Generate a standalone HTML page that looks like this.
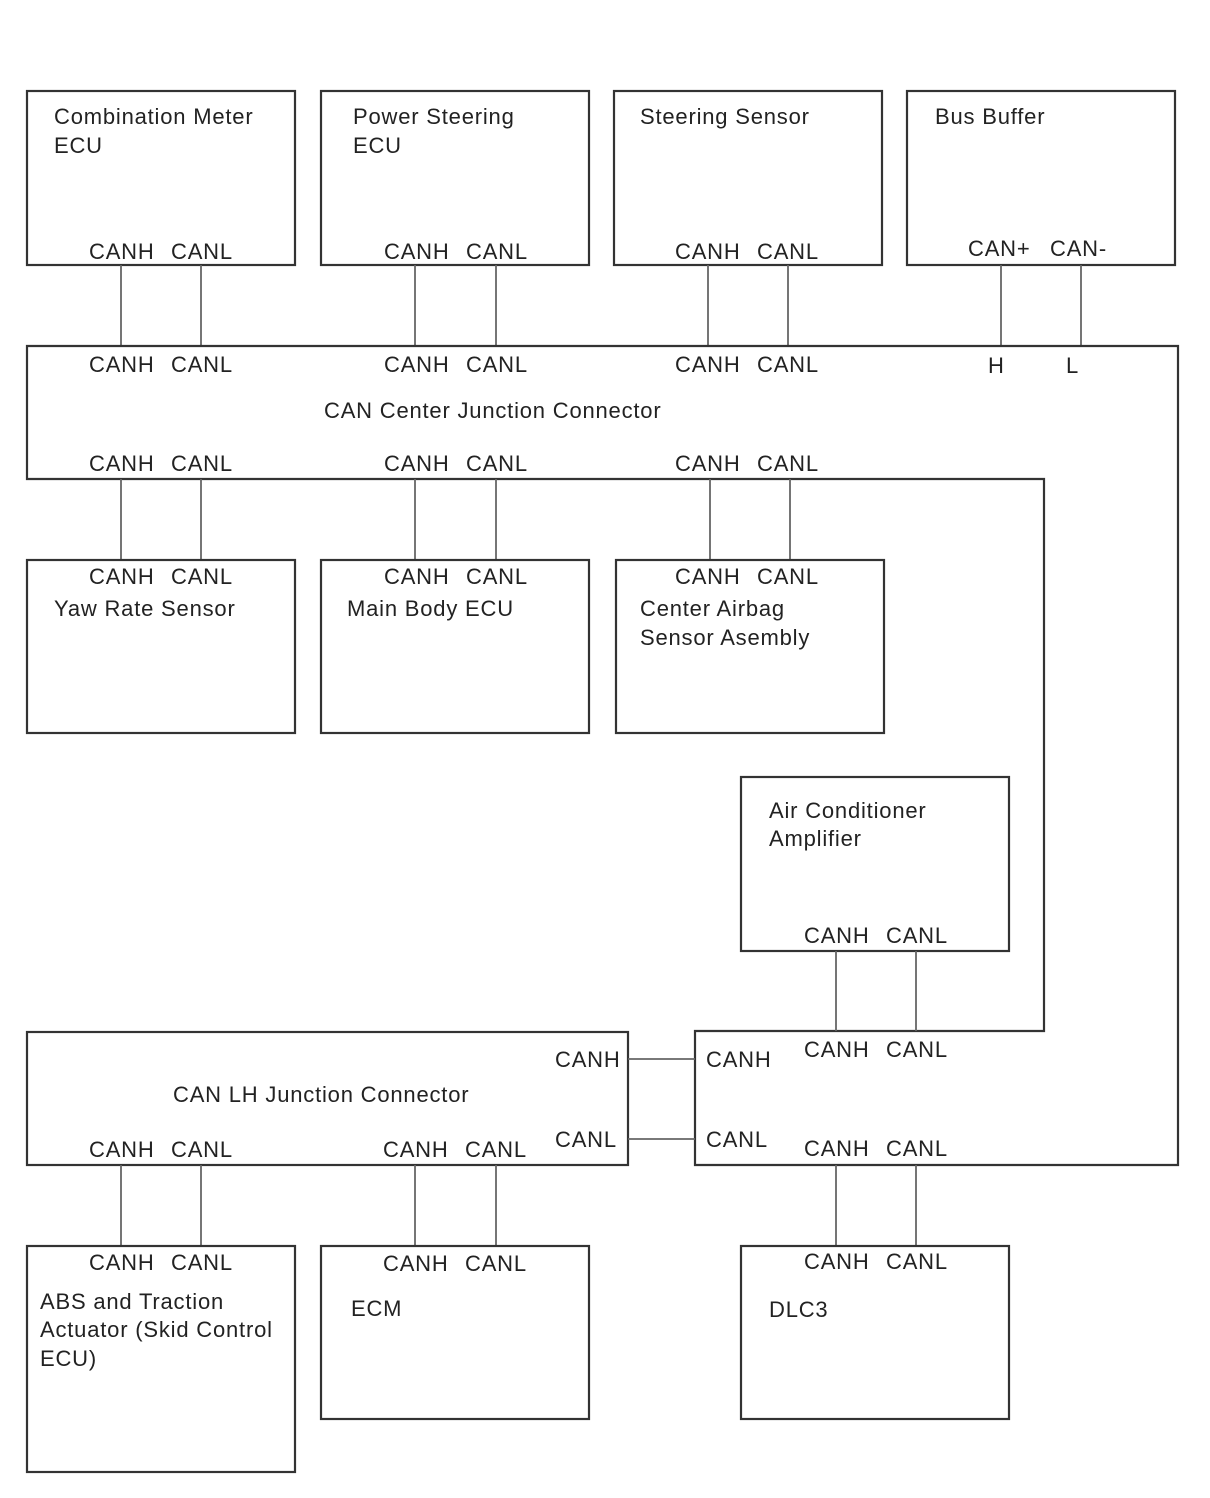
<!DOCTYPE html>
<html><head><meta charset="utf-8"><style>
html,body{margin:0;padding:0;background:#fff;}
svg{display:block;}
text{font-family:"Liberation Sans",Arial,sans-serif;font-size:22px;fill:#222;letter-spacing:0.8px;}
.b{fill:none;stroke:#333;stroke-width:2.2;}
.l{stroke:#666;stroke-width:1.8;}
</style></head><body>
<svg width="1210" height="1498" viewBox="0 0 1210 1498" xmlns="http://www.w3.org/2000/svg">
<rect class="b" x="27" y="91" width="268" height="174"/>
<rect class="b" x="321" y="91" width="268" height="174"/>
<rect class="b" x="614" y="91" width="268" height="174"/>
<rect class="b" x="907" y="91" width="268" height="174"/>
<text x="54" y="124">Combination Meter</text><text x="54" y="153">ECU</text>
<text x="353" y="124">Power Steering</text><text x="353" y="153">ECU</text>
<text x="640" y="124">Steering Sensor</text>
<text x="935" y="124">Bus Buffer</text>
<text x="89" y="259">CANH</text><text x="171" y="259">CANL</text>
<text x="384" y="259">CANH</text><text x="466" y="259">CANL</text>
<text x="675" y="259">CANH</text><text x="757" y="259">CANL</text>
<text x="968" y="256">CAN+</text><text x="1050" y="256">CAN-</text>
<line class="l" x1="121" y1="265" x2="121" y2="346"/><line class="l" x1="201" y1="265" x2="201" y2="346"/>
<line class="l" x1="415" y1="265" x2="415" y2="346"/><line class="l" x1="496" y1="265" x2="496" y2="346"/>
<line class="l" x1="708" y1="265" x2="708" y2="346"/><line class="l" x1="788" y1="265" x2="788" y2="346"/>
<line class="l" x1="1001" y1="265" x2="1001" y2="346"/><line class="l" x1="1081" y1="265" x2="1081" y2="346"/>
<path class="b" d="M27 346 H1178 V1165 H695 V1031 H1044 V479 H27 Z"/>
<text x="89" y="372">CANH</text><text x="171" y="372">CANL</text>
<text x="384" y="372">CANH</text><text x="466" y="372">CANL</text>
<text x="675" y="372">CANH</text><text x="757" y="372">CANL</text>
<text x="988" y="373">H</text><text x="1066" y="373">L</text>
<text x="324" y="418">CAN Center Junction Connector</text>
<text x="89" y="471">CANH</text><text x="171" y="471">CANL</text>
<text x="384" y="471">CANH</text><text x="466" y="471">CANL</text>
<text x="675" y="471">CANH</text><text x="757" y="471">CANL</text>
<line class="l" x1="121" y1="479" x2="121" y2="560"/><line class="l" x1="201" y1="479" x2="201" y2="560"/>
<line class="l" x1="415" y1="479" x2="415" y2="560"/><line class="l" x1="496" y1="479" x2="496" y2="560"/>
<line class="l" x1="710" y1="479" x2="710" y2="560"/><line class="l" x1="790" y1="479" x2="790" y2="560"/>
<rect class="b" x="27" y="560" width="268" height="173"/>
<rect class="b" x="321" y="560" width="268" height="173"/>
<rect class="b" x="616" y="560" width="268" height="173"/>
<text x="89" y="584">CANH</text><text x="171" y="584">CANL</text>
<text x="384" y="584">CANH</text><text x="466" y="584">CANL</text>
<text x="675" y="584">CANH</text><text x="757" y="584">CANL</text>
<text x="54" y="616">Yaw Rate Sensor</text>
<text x="347" y="616">Main Body ECU</text>
<text x="640" y="616">Center Airbag</text><text x="640" y="645">Sensor Asembly</text>
<rect class="b" x="741" y="777" width="268" height="174"/>
<text x="769" y="818">Air Conditioner</text><text x="769" y="846">Amplifier</text>
<text x="804" y="943">CANH</text><text x="886" y="943">CANL</text>
<line class="l" x1="836" y1="951" x2="836" y2="1031"/><line class="l" x1="916" y1="951" x2="916" y2="1031"/>
<text x="804" y="1057">CANH</text><text x="886" y="1057">CANL</text>
<text x="706" y="1067">CANH</text><text x="706" y="1147">CANL</text>
<text x="804" y="1156">CANH</text><text x="886" y="1156">CANL</text>
<rect class="b" x="27" y="1032" width="601" height="133"/>
<text x="555" y="1067">CANH</text><text x="555" y="1147">CANL</text>
<text x="173" y="1102">CAN LH Junction Connector</text>
<text x="89" y="1157">CANH</text><text x="171" y="1157">CANL</text>
<text x="383" y="1157">CANH</text><text x="465" y="1157">CANL</text>
<line class="l" x1="628" y1="1059" x2="695" y2="1059"/><line class="l" x1="628" y1="1139" x2="695" y2="1139"/>
<line class="l" x1="121" y1="1165" x2="121" y2="1246"/><line class="l" x1="201" y1="1165" x2="201" y2="1246"/>
<line class="l" x1="415" y1="1165" x2="415" y2="1246"/><line class="l" x1="496" y1="1165" x2="496" y2="1246"/>
<line class="l" x1="836" y1="1165" x2="836" y2="1246"/><line class="l" x1="916" y1="1165" x2="916" y2="1246"/>
<rect class="b" x="27" y="1246" width="268" height="226"/>
<rect class="b" x="321" y="1246" width="268" height="173"/>
<rect class="b" x="741" y="1246" width="268" height="173"/>
<text x="89" y="1270">CANH</text><text x="171" y="1270">CANL</text>
<text x="383" y="1271">CANH</text><text x="465" y="1271">CANL</text>
<text x="804" y="1269">CANH</text><text x="886" y="1269">CANL</text>
<text x="40" y="1309">ABS and Traction</text><text x="40" y="1337">Actuator (Skid Control</text><text x="40" y="1366">ECU)</text>
<text x="351" y="1316">ECM</text>
<text x="769" y="1317">DLC3</text>
</svg>
</body></html>
